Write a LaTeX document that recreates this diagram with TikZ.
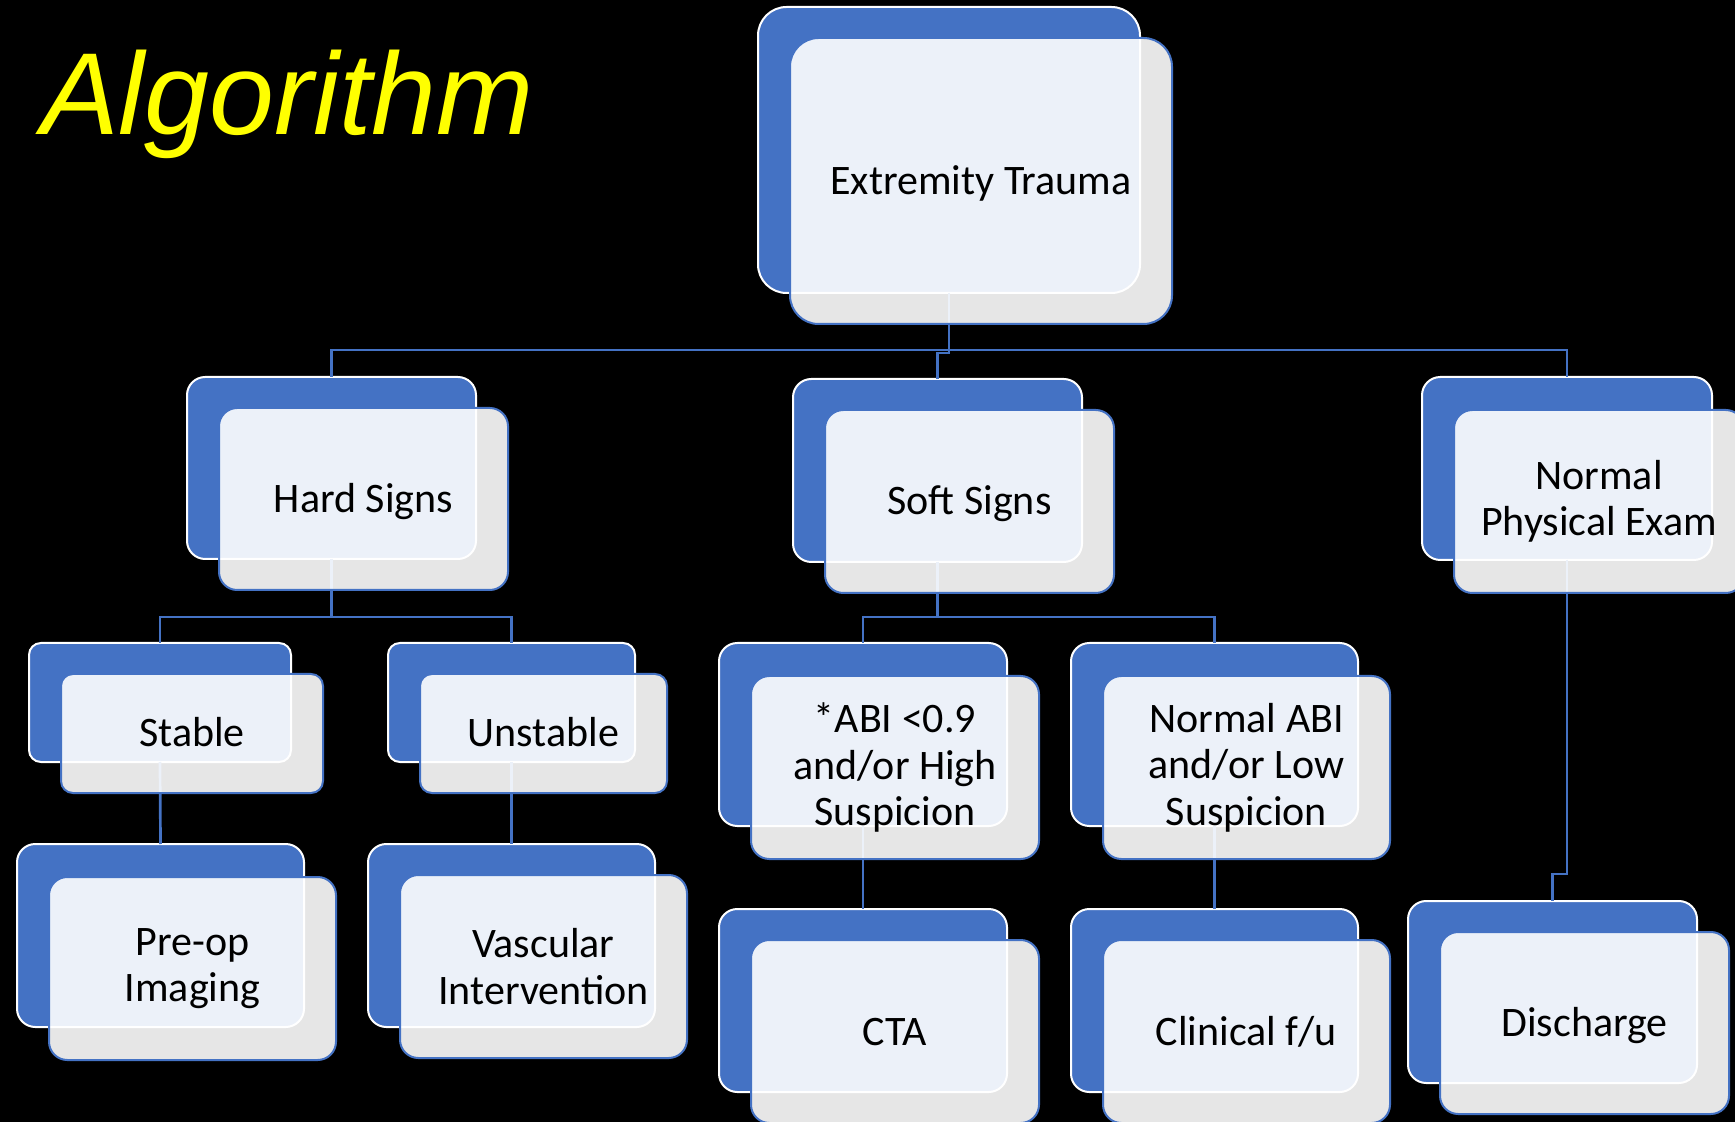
\documentclass[tikz,border=0pt]{standalone}
\usepackage{fontspec}
\setmainfont{Carlito}
\newfontfamily\titlefont{Liberation Sans}
\definecolor{sablue}{HTML}{4472C4}
\definecolor{titleyellow}{RGB}{255,255,0}
\newcommand\backbx[5]{\node[backbox, minimum width=#4*0.5pt, minimum height=#5*0.5pt, rounded corners=#5*0.05pt] (#1) at (#2,#3) {};}
\newcommand\frontbx[7][]{\node[frontbox, minimum width=#5*0.5pt, minimum height=#6*0.5pt, rounded corners=#6*0.05pt, #1] (#2f) at (#3+32,#4+31) {#7};}
\begin{document}
\begin{tikzpicture}[x=0.5pt,y=-0.5pt,
  backbox/.style={draw=white, line width=1pt, fill=sablue, rectangle, inner sep=0pt, outer sep=0pt},
  frontbox/.style={draw=sablue, line width=1pt, fill=white, fill opacity=0.9, text opacity=1, text=black, rectangle, inner sep=0pt, outer sep=0pt, align=center, font=\fontsize{21}{23.25}\selectfont},
  oneline/.style={text height=15pt, text depth=1.5pt},
  multiline/.style={yshift=-1pt},
  conn/.style={draw=sablue, line width=1.35pt}]
\path[fill=black, use as bounding box] (0,0) rectangle (1735,1122);
\clip (0,0) rectangle (1735,1122);
% title
\node[anchor=base east, inner sep=0pt, text=titleyellow, font=\titlefont\itshape\fontsize{58.3}{70}\selectfont] (title) at (534,135) {Algorithm};
% back boxes
\backbx{et}{949}{150}{382}{286}
\backbx{hs}{331.5}{468}{289}{182}
\backbx{ss}{937.5}{470.5}{289}{183}
\backbx{np}{1567}{468.5}{290}{183}
\backbx{st}{160}{702.5}{262}{119}
\backbx{us}{511.5}{702.5}{247}{119}
\backbx{abi}{863}{734.5}{288}{183}
\backbx{nabi}{1214.5}{734.5}{287}{183}
\backbx{pre}{160.5}{935.5}{287}{183}
\backbx{vas}{511.5}{935.5}{287}{183}
\backbx{cta}{863}{1000.5}{288}{183}
\backbx{cfu}{1214.5}{1000.5}{287}{183}
\backbx{dis}{1552.5}{992}{289}{182}
% connectors
\draw[conn] (et.south) -- (et.south |- 0,350) -| (hs.north);
\draw[conn] (et.south) -- (et.south |- 0,350) -| (np.north);
\draw[conn] (et.south) -- (et.south |- 0,353) -| (ss.north);
\draw[conn] (hs.south) -- (hs.south |- 0,617) -| (st.north);
\draw[conn] (hs.south) -- (hs.south |- 0,617) -| (us.north);
\draw[conn] (ss.south) -- (ss.south |- 0,617) -| (abi.north);
\draw[conn] (ss.south) -- (ss.south |- 0,617) -| (nabi.north);
\draw[conn] (st.south) -- (pre.north);
\draw[conn] (us.south) -- (vas.north);
\draw[conn] (abi.south) -- (cta.north);
\draw[conn] (nabi.south) -- (cfu.north);
\draw[conn] (np.south) -- (np.south |- 0,874) -| (dis.north);
% front boxes
\frontbx[oneline]{et}{949}{150}{382}{286}{Extremity Trauma}
\frontbx[oneline]{hs}{331.5}{468}{289}{182}{Hard Signs}
\frontbx[oneline]{ss}{937.5}{470.5}{289}{183}{Soft Signs}
\frontbx[multiline]{np}{1567}{468.5}{290}{183}{Normal\\Physical Exam}
\frontbx[oneline]{st}{160}{702.5}{262}{119}{Stable}
\frontbx[oneline]{us}{511.5}{702.5}{247}{119}{Unstable}
\frontbx[multiline]{abi}{863}{734.5}{288}{183}{*ABI <0.9\\and/or High\\Suspicion}
\frontbx[multiline]{nabi}{1214.5}{734.5}{287}{183}{Normal ABI\\and/or Low\\Suspicion}
\frontbx[multiline]{pre}{160.5}{935.5}{287}{183}{Pre-op\\Imaging}
\frontbx{vas}{511.5}{935.5}{287}{183}{Vascular\\Intervention}
\frontbx[oneline]{cta}{863}{1000.5}{288}{183}{CTA}
\frontbx[oneline]{cfu}{1214.5}{1000.5}{287}{183}{Clinical f/u}
\frontbx[oneline]{dis}{1552.5}{992}{289}{182}{Discharge}
\end{tikzpicture}
\end{document}
